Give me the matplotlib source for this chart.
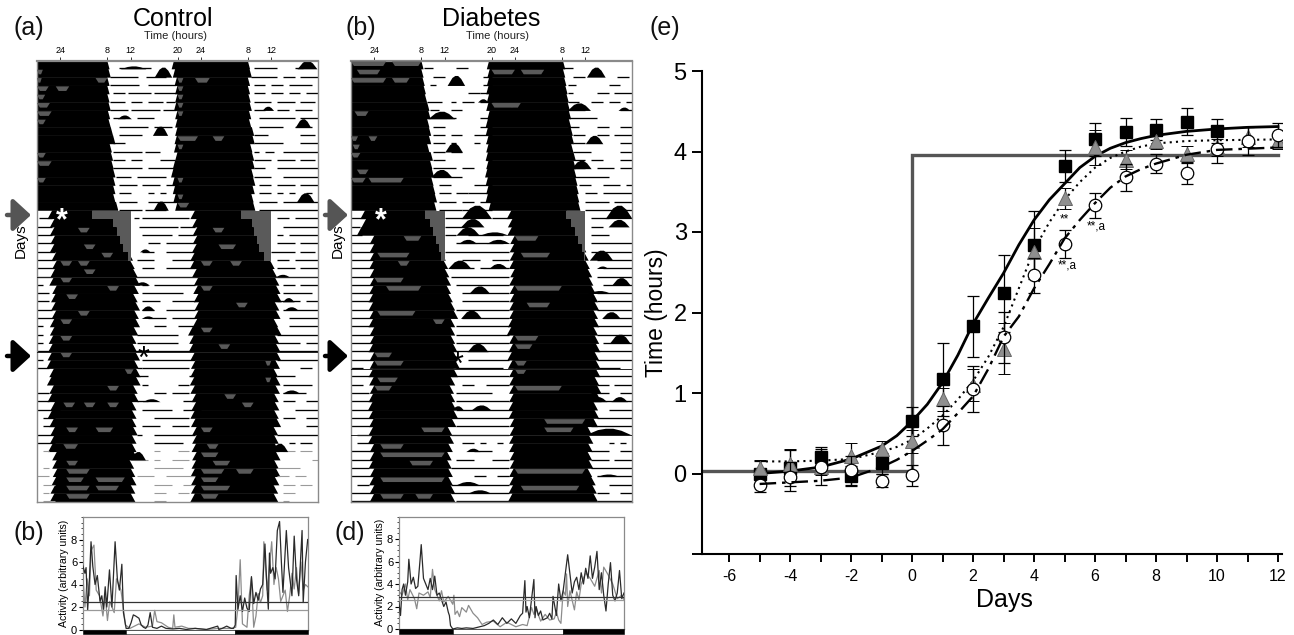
import numpy as np
import matplotlib
matplotlib.use("Agg")
import matplotlib.pyplot as plt
from matplotlib.patches import Polygon, Rectangle

plt.rcParams['font.family'] = ['Liberation Sans', 'DejaVu Sans']
plt.rcParams['axes.unicode_minus'] = False

W, H = 1294, 635
N_ROWS = 53

# ---------- panel (e) data ----------
days_sq = [-5, -4, -3, -2, -1, 0, 1, 2, 3, 4, 5, 6, 7, 8, 9, 10]
sq_val = [0.0, 0.07, 0.2, -0.03, 0.13, 0.65, 1.17, 1.83, 2.24, 2.84, 3.82, 4.15, 4.24, 4.27, 4.37, 4.25]
sq_err = [0.15, 0.22, 0.13, 0.12, 0.13, 0.18, 0.45, 0.38, 0.48, 0.42, 0.2, 0.2, 0.17, 0.13, 0.17, 0.15]
days_all = [-5, -4, -3, -2, -1, 0, 1, 2, 3, 4, 5, 6, 7, 8, 9, 10, 11, 12]
tri_val = [0.07, 0.12, 0.08, 0.22, 0.3, 0.4, 0.92, 1.1, 1.55, 2.75, 3.42, 4.05, 3.9, 4.13, 3.97, 4.05, 4.18, 4.13]
tri_err = [0.1, 0.18, 0.1, 0.16, 0.1, 0.14, 0.14, 0.2, 0.32, 0.3, 0.13, 0.22, 0.12, 0.1, 0.1, 0.1, 0.12, 0.1]
cir_val = [-0.14, -0.04, 0.08, 0.04, -0.09, -0.02, 0.6, 1.05, 1.69, 2.46, 2.85, 3.33, 3.68, 3.85, 3.73, 4.03, 4.13, 4.2]
cir_err = [0.09, 0.18, 0.22, 0.18, 0.08, 0.13, 0.24, 0.28, 0.32, 0.22, 0.17, 0.15, 0.17, 0.12, 0.13, 0.17, 0.17, 0.15]

solid_x = [-5, -4, -3, -2, -1, -0.5, 0, 0.5, 1, 1.5, 2, 2.5, 3, 3.5, 4, 4.5, 5, 5.5, 6, 6.5, 7, 7.5, 8, 9, 10, 11, 12]
solid_y = [0.0, 0.03, 0.08, 0.18, 0.34, 0.47, 0.65, 0.86, 1.13, 1.47, 1.86, 2.18, 2.49, 2.84, 3.15, 3.4, 3.6, 3.8, 3.94, 4.04, 4.11, 4.16, 4.2, 4.25, 4.28, 4.3, 4.31]
dot_x = [-5, -4, -3, -2, -1, -0.5, 0, 0.5, 1, 1.5, 2, 2.5, 3, 3.5, 4, 4.5, 5, 5.5, 6, 6.5, 7, 7.5, 8, 9, 10, 12]
dot_y = [0.15, 0.15, 0.16, 0.18, 0.27, 0.33, 0.42, 0.56, 0.72, 0.92, 1.15, 1.45, 1.82, 2.3, 2.78, 3.12, 3.4, 3.62, 3.8, 3.92, 4.0, 4.06, 4.1, 4.13, 4.14, 4.15]
dd_x = [-5, -4, -3, -2, -1, -0.5, 0, 0.5, 1, 1.5, 2, 2.5, 3, 3.5, 4, 4.5, 5, 5.5, 6, 6.5, 7, 7.5, 8, 9, 10, 12]
dd_y = [-0.13, -0.11, -0.09, -0.05, 0.08, 0.17, 0.28, 0.41, 0.55, 0.75, 0.96, 1.3, 1.7, 1.95, 2.3, 2.6, 2.92, 3.15, 3.36, 3.55, 3.69, 3.78, 3.85, 3.96, 4.02, 4.05]
step_x = [-7, 0, 0, 12]
step_y = [0.03, 0.03, 3.96, 3.96]
x_ticks = [-6, -4, -2, 0, 2, 4, 6, 8, 10, 12]
x_minor = [-5, -3, -1, 1, 3, 5, 7, 9, 11]
y_ticks = [-1, 0, 1, 2, 3, 4, 5]
y_tick_labels = ['', '0', '1', '2', '3', '4', '5']

# ---------- activity traces, percent of the 24 h profile ----------
b_dark_x = [0, 1, 1.5, 2.2, 3, 3.7, 4.5, 5.5, 6.5, 7.7, 8.5, 9.2, 10, 10.7, 11.9, 13, 14.4, 15.4, 16.3, 17.4, 18.1, 19.3, 20.5, 21.5, 22.5, 23.5, 25, 26, 27, 28, 29, 30, 31, 33, 35, 37, 40, 43, 46, 50, 55, 60, 60.5, 62, 64, 66, 67, 67.8, 68.2, 69, 70, 71, 72, 73, 74, 75, 76, 77, 78, 79, 80, 81, 81.7, 82.5, 83, 83.5, 84.5, 85.5, 86.5, 87.5, 88.3, 89, 90.5, 91.5, 93, 94, 95, 96, 97.5, 98, 99, 100]
b_dark_y = [5.7, 5.0, 5.5, 1.7, 4.5, 7.8, 5.6, 4.0, 4.8, 2.5, 3.0, 1.8, 3.8, 2.0, 5.3, 2.0, 7.8, 4.5, 3.5, 5.8, 1.5, 0.1, 0.1, 0.6, 1.3, 1.2, 1.0, 0.4, 0.2, 0.1, 0.4, 1.5, 0.2, 0.1, 0.3, 0.1, 0.05, 0.1, 0.0, 0.1, 0.0, 0.3, 0.0, 0.1, 0.3, 0.1, 0.1, 0.4, 4.8, 1.8, 3.0, 1.6, 2.8, 1.9, 1.6, 4.7, 2.3, 3.3, 2.6, 3.6, 4.0, 7.6, 4.5, 1.8, 6.8, 5.0, 5.5, 4.5, 8.8, 9.6, 6.0, 3.3, 8.8, 5.5, 3.0, 8.3, 4.5, 3.0, 8.8, 2.4, 6.0, 8.0]
b_gray_x = [0, 1, 2, 3, 3.7, 5, 6, 7.5, 9, 10, 11, 12, 14, 15, 17, 18, 19, 21, 25, 28, 31, 32, 33, 35, 38, 40, 40.5, 41, 44, 47, 50, 55, 60, 66, 68, 69, 70, 71, 73, 74, 75, 76, 77, 78, 79, 80, 80.5, 82, 84, 85, 86, 87, 88, 90, 91, 92, 93, 94, 95, 96, 97, 98, 99, 100]
b_gray_y = [5.0, 2.0, 4.5, 3.0, 7.0, 7.5, 3.5, 3.0, 1.2, 3.0, 0.8, 2.5, 1.5, 4.5, 3.5, 2.0, 0.4, 0.1, 0.5, 0.2, 0.3, 1.7, 0.7, 0.6, 0.2, 0.1, 1.3, 0.2, 0.3, 0.1, 0.1, 0.0, 0.1, 0.1, 0.2, 2.0, 6.2, 0.5, 0.2, 3.0, 4.6, 0.2, 1.2, 3.2, 2.4, 3.0, 7.8, 3.5, 7.8, 4.0, 5.5, 4.5, 2.5, 3.5, 1.6, 3.0, 5.0, 3.6, 5.5, 3.2, 6.0, 3.5, 4.0, 3.8]
d_dark_x = [0, 0.8, 1.5, 2.2, 3, 4, 4.5, 5.5, 6.5, 7.5, 8.5, 9.5, 10, 11, 12, 13, 14, 15, 16, 17, 18, 19, 20, 21, 22, 22.5, 23, 24, 25, 26, 28, 30, 33, 36, 38, 40, 42, 44, 46, 48, 50, 52, 54, 55, 56, 56.5, 57, 58, 60, 60.5, 61, 62, 63, 64, 66, 67, 68, 68.5, 70, 71, 72, 73, 75, 77, 78, 79, 80, 81, 82, 83, 84, 85, 86, 87, 88, 89, 90, 91, 92, 93, 94, 95, 96, 97, 98, 99, 100]
d_dark_y = [2.5, 1.2, 3.5, 4.0, 3.0, 4.2, 6.2, 4.0, 4.6, 3.6, 3.8, 6.2, 7.5, 4.5, 4.0, 3.5, 4.5, 3.5, 4.7, 3.0, 3.2, 2.6, 2.0, 2.4, 1.5, 1.2, 0.3, 0.0, 0.05, 0.1, 0.05, 0.1, 0.05, 0.2, 0.3, 0.5, 0.8, 0.4, 1.0, 0.5, 0.9, 0.5, 1.2, 1.4, 4.3, 1.5, 2.0, 1.0, 4.4, 1.0, 2.0, 1.2, 1.6, 0.8, 1.0, 1.4, 0.9, 2.9, 1.2, 4.0, 2.5, 3.4, 6.6, 3.2, 4.2, 4.6, 3.5, 5.0, 4.0, 5.4, 4.5, 6.5, 4.5, 5.5, 6.9, 3.5, 5.0, 3.0, 1.6, 4.0, 5.9, 3.0, 2.5, 3.2, 5.2, 2.7, 3.2]
d_gray_x = [0, 1.5, 3, 4, 5, 7, 8, 9, 11, 13, 14, 15, 16, 18, 19, 20, 22, 24, 24.5, 25, 26, 27, 28, 30, 31, 33, 35, 37, 39, 42, 45, 48, 52, 55, 57, 59, 60, 61, 63, 65, 67, 69, 70, 71, 72, 73, 74, 74.5, 75, 76, 78, 79, 80, 81, 83, 85, 87, 89, 90, 91, 93, 95, 97, 99, 100]
d_gray_y = [3.4, 3.0, 4.0, 2.6, 3.5, 2.7, 1.8, 3.2, 3.0, 3.3, 2.8, 5.3, 3.5, 2.5, 3.4, 2.4, 2.9, 2.2, 3.0, 1.3, 1.6, 1.1, 1.9, 1.5, 2.1, 1.4, 1.0, 0.4, 0.6, 0.7, 0.2, 0.6, 0.2, 0.4, 0.3, 1.9, 1.3, 1.8, 0.7, 1.3, 0.8, 0.9, 1.5, 0.8, 0.5, 3.4, 3.0, 4.9, 2.0, 3.4, 1.7, 3.3, 2.6, 4.0, 5.0, 4.5, 3.8, 5.2, 3.2, 5.5, 4.8, 4.0, 2.7, 3.0, 2.6]
b_thresh = [2.45, 1.75]
d_thresh = [2.85, 2.6]
act_ticks = [0, 2, 4, 6, 8]
b_bar_edges = [0, 19.3, 67.8, 100]
d_bar_edges = [0, 24.3, 72.8, 100]

# ---------- actograms: start and end of the active block per row, hours from left edge ----------
a_on_L = [0] * 18 + [2.6, 3.0, 3.0, 3.1, 3.0, 3.3, 3.4, 3.1, 2.9, 3.4, 3.2, 3.2, 3.3, 3.0, 3.0, 2.8, 2.7, 2.6, 2.4, 2.9, 2.5, 2.9, 2.6, 3.1, 2.6, 2.9, 3.1, 3.0, 2.7, 3.4, 3.4, 3.5, 3.3, 3.1, 3.0]
a_off_L = [12, 12.2, 12, 12, 12, 12.2, 12.1, 12.2, 12.6, 13, 12.4, 12.6, 12.7, 13, 13, 13, 13, 13.5, 9.4, 13.0, 13.6, 14.2, 14.7, 15.6, 15.9, 16.4, 16.8, 16.6, 16.4, 16.8, 16.6, 16.8, 16.5, 16.2, 16.3, 16.8, 16.6, 16.9, 16.9, 16.4, 16.6, 16.2, 16.2, 16.2, 16.4, 16.2, 16.2, 16.5, 15.8, 16.0, 16.2, 16.0, 16.0]
a_on_R = [-0.6, -0.4, -0.1, 0, 0, -0.2, 0, 0, 0, -0.1, -0.2, 0, -0.4, -0.7, -0.5, -0.4, -0.3, 0, 3.0, 3.3, 3.4, 3.4, 3.3, 3.0, 2.9, 3.3, 3.6, 3.5, 3.6, 3.7, 3.6, 3.4, 2.6, 2.8, 2.7, 3.0, 3.1, 3.0, 2.9, 3.0, 3.2, 3.2, 3.0, 3.1, 3.3, 3.3, 3.2, 3.3, 3.2, 3.0, 3.1, 3.1, 3.0]
a_off_R = [12, 12.3, 12, 12, 12.1, 12.3, 12.2, 12.2, 12.7, 12.8, 12.4, 12.7, 12.8, 12.6, 12.9, 12.8, 12.6, 12.9, 10.8, 12.8, 13.0, 13.6, 14.0, 14.8, 15.8, 16.2, 16.6, 16.8, 17.0, 16.6, 16.8, 16.4, 17.0, 16.6, 16.8, 16.9, 16.7, 16.4, 16.8, 16.7, 16.5, 16.6, 16.5, 16.9, 16.4, 16.5, 16.6, 16.8, 16.5, 16.8, 16.6, 16.4, 16.4]
b_on_L = [0] * 18 + [2.4, 2.6, 1.8, 4.0, 4.0, 4.0, 3.9, 4.0, 4.0, 3.9, 3.8, 3.8, 3.9, 3.8, 4.0, 4.0, 3.8, 4.0, 4.0, 3.8, 3.9, 4.0, 3.8, 3.7, 3.8, 3.9, 3.8, 3.7, 4.0, 4.0, 3.8, 4.0, 3.9, 4.0, 4.0]
b_off_L = [12, 12, 12.2, 12.4, 12.6, 13, 13.2, 13, 13.3, 13.3, 13, 13.6, 13.5, 13.8, 13.7, 14, 14.3, 14.2, 12.6, 13.5, 14, 14.5, 15, 15.4, 15.8, 16, 16.3, 16.3, 16.6, 17, 17.5, 17, 17, 17, 17.4, 17.5, 17.8, 17.5, 17, 16.8, 17, 17.2, 17.5, 17.2, 16.5, 16.8, 16.6, 16.4, 16.4, 16.6, 16.6, 17, 17]
b_on_R = [-0.4, -0.3, -0.4, -0.5, -0.4, -0.5, -0.3, -0.6, -0.6, -0.5, -0.5, -0.6, -0.5, -0.7, -0.6, -0.5, -0.6, -0.1, 3.4, 3.6, 3.5, 4.0, 3.9, 3.9, 3.8, 4.0, 3.8, 3.9, 3.9, 3.8, 3.8, 3.6, 3.4, 3.8, 3.7, 3.5, 3.6, 3.8, 3.8, 3.8, 3.8, 3.7, 3.7, 3.9, 3.9, 3.8, 3.8, 3.9, 3.9, 3.8, 3.8, 3.7, 3.6]
b_off_R = [12.2, 12.2, 12.4, 12.6, 12.8, 13, 13.2, 13.2, 13.5, 13.7, 13.6, 14, 14, 14.1, 14.3, 14.5, 14.6, 14.8, 12.8, 13.6, 14.2, 14.8, 15.4, 15.8, 16, 16.4, 16.6, 17, 17.4, 17.6, 17.4, 17.6, 17.4, 17.6, 17.8, 17.6, 17.8, 17.8, 17.6, 18, 18, 17.4, 17.6, 17.4, 16.4, 16.6, 16.5, 16.4, 16.6, 16.4, 17, 17.2, 17.4]

# gaps of low activity: row, start hour, end hour
a_wedge = [(18, 9.4, 16), (19, 13, 16), (20, 13.6, 16), (21, 14.2, 16), (22, 14.7, 16), (23, 15.6, 16),
           (18, 34.8, 40), (19, 36.8, 40), (20, 37, 40), (21, 37.6, 40), (22, 38, 40), (23, 38.8, 40)]
a_gray = [(1, 0, 1), (2, 0, 0.8), (3, 0, 2), (4, 0, 1.4), (5, 0, 2.2), (6, 0, 2.5), (7, 0, 1.5), (3, 3.2, 5.5),
          (2, 10, 12), (2, 27, 29.5), (9, 24, 27.5), (9, 30, 32), (11, 0, 1.5), (12, 0, 2.5), (14, 0, 1.5),
          (2, 24, 25), (3, 24, 25), (4, 24, 25), (5, 24, 25), (6, 24, 25), (10, 24, 25), (14, 24, 25), (16, 24, 25),
          (17, 24, 26), (20, 7, 9), (22, 8, 10), (23, 11, 13), (24, 4, 6), (24, 7, 9), (25, 8, 10), (26, 4, 6),
          (27, 12, 14), (28, 5, 7), (30, 7, 9), (31, 4, 6), (33, 4, 6), (35, 4, 6), (37, 15, 16.5), (39, 12, 14),
          (41, 4.5, 6.5), (41, 8, 10), (41, 12, 14), (44, 5, 7), (44, 10, 13), (46, 4.5, 7), (48, 5, 7), (49, 5, 9),
          (50, 5, 8), (50, 10, 15), (51, 5, 9), (51, 10, 14), (52, 5, 9), (20, 30, 32), (22, 31, 34), (24, 28, 30),
          (24, 33, 35), (27, 28, 30), (29, 34, 36), (32, 28, 30), (34, 31, 33), (36, 39, 40), (38, 39, 40), (40, 32, 34),
          (41, 35, 37), (44, 28, 30), (46, 29, 31), (47, 28, 31), (48, 30, 33), (49, 28, 32), (49, 34, 37), (50, 28, 31), (51, 28, 33), (52, 28, 31)]
b_wedge = [(18, 12.6, 16), (19, 13.5, 16), (20, 14, 16), (21, 14.5, 16), (22, 15, 16), (23, 15.4, 16),
           (18, 36.8, 40), (19, 37.6, 40), (20, 38.2, 40), (21, 38.8, 40), (22, 39.4, 40), (23, 39.8, 40)]
b_gray = [(0, 0, 6), (0, 7, 12), (1, 1, 5), (1, 24, 28), (1, 29, 33), (2, 0, 6), (2, 7, 10), (5, 24, 28), (6, 0.6, 3),
          (9, 0, 1.2), (9, 3, 4.5), (10, 0.3, 1.5), (11, 0, 1.6), (13, 1, 3), (14, 0, 2.5), (14, 3, 9), (5, 27, 29),
          (21, 9, 12), (23, 4.5, 10), (24, 8, 10), (26, 4, 9), (27, 6, 12), (30, 4.5, 11), (31, 14, 16), (36, 4, 9),
          (38, 4.5, 8), (39, 4, 7), (21, 28, 32), (23, 29, 34), (27, 28, 36), (29, 30, 34), (33, 28, 32), (36, 28, 30),
          (39, 28, 36), (44, 12, 16), (43, 33, 40), (44, 33, 38), (46, 5, 9), (47, 5, 16), (48, 10, 14), (49, 28, 40),
          (50, 5, 16), (51, 29, 39), (52, 5, 9), (52, 11, 14), (34, 28, 31), (35, 4, 7), (37, 28, 30)]

# baseline activity: row, start hour, end hour
a_dash = [(0, 14, 19.5), (0, 37, 41), (0, 44, 45.5), (1, 12.5, 17.3), (1, 18.7, 22), (1, 36.5, 41), (1, 42, 44), (1, 45, 48),
          (2, 12.5, 17.5), (2, 19, 23.8), (2, 37, 39), (2, 40, 42), (2, 43, 47), (3, 13, 15), (3, 15.5, 19.5), (3, 20, 23.8),
          (3, 37, 39), (3, 40, 42), (3, 43, 45), (3, 46, 48), (4, 12.5, 15), (4, 16, 18), (4, 19, 21.5), (4, 22, 23.5),
          (4, 37, 40), (4, 41, 44), (4, 45, 47.5), (5, 12.5, 15.5), (5, 16, 21), (5, 21.5, 23.8), (5, 37, 39), (5, 41, 43), (5, 44, 47),
          (6, 13, 15), (6, 17, 20), (6, 38, 44), (6, 45, 48), (7, 14, 19), (7, 20, 23), (7, 38, 42), (7, 44, 47),
          (8, 14, 18), (8, 37, 39.5), (8, 45, 47.5), (9, 13, 15), (9, 37, 42), (9, 45, 48), (10, 13, 18), (10, 18.5, 21), (10, 37, 38), (10, 39, 40.5), (10, 42, 48),
          (11, 13, 15), (11, 16, 18), (11, 21, 23.5), (11, 37, 40), (11, 41, 44), (11, 45, 47.5), (12, 13, 18), (12, 19, 24), (12, 37, 39), (12, 41, 48),
          (13, 13.5, 16), (13, 17, 22), (13, 37, 40), (13, 42, 48), (14, 14, 17), (14, 18, 21), (14, 22, 24), (14, 38, 40), (14, 41, 44), (14, 45, 48),
          (15, 14, 16), (15, 19, 20), (15, 21, 22), (15, 38, 40), (15, 41, 42), (15, 43, 44), (15, 46, 47), (16, 14, 17), (16, 19, 24), (16, 38, 41), (16, 42, 48),
          (17, 14, 18), (17, 18.5, 22), (17, 38, 48), (18, 0.3, 2.5), (18, 16.5, 17.5), (18, 18, 26), (18, 41, 43), (18, 44, 48),
          (19, 0, 2.5), (19, 17.5, 24), (19, 24.5, 27), (19, 42, 48), (20, 0, 2.5), (20, 18, 23), (20, 24, 27), (20, 41, 42), (20, 43, 48),
          (21, 0, 3), (21, 19, 21), (21, 22, 27), (21, 41, 44), (21, 45, 48), (22, 0, 3), (22, 18, 20), (22, 22, 27), (22, 40, 44), (22, 45, 47.5),
          (23, 0, 3), (23, 17, 20), (23, 23, 27), (23, 41, 43), (23, 44, 48), (24, 0, 3), (24, 18, 20), (24, 22, 27), (24, 41, 44), (24, 45, 48),
          (25, 0, 48), (26, 0, 1), (26, 18, 19), (26, 20, 27), (26, 42, 44), (26, 45, 48), (27, 0, 2), (27, 18, 25), (27, 42, 47), (28, 0, 2), (28, 18, 21), (28, 23, 27), (28, 41, 45), (28, 46, 48),
          (29, 0, 2.5), (29, 18, 20), (29, 22, 27), (29, 42, 48), (30, 0, 3), (30, 19, 22), (30, 23, 27), (30, 43, 48), (31, 0, 1), (31, 20, 22), (31, 24, 27), (31, 43, 48),
          (32, 0, 1), (32, 17, 24), (32, 41, 48), (33, 0, 1), (33, 17, 24), (33, 41, 45), (33, 46, 48), (34, 0, 48), (35, 0, 1), (35, 18, 27), (35, 41, 48),
          (36, 0, 2), (36, 17, 18), (36, 18, 26), (36, 45, 47), (37, 17, 19), (37, 26, 27), (37, 41, 44), (38, 18, 19), (38, 24, 26), (38, 42, 47),
          (39, 0, 2), (39, 20, 22), (39, 23, 26), (39, 42, 46), (40, 0, 2), (40, 17, 19), (40, 25, 27), (40, 42, 44), (40, 46, 48), (41, 0, 4), (41, 18, 23), (41, 25, 28), (41, 44, 48),
          (42, 1, 3), (42, 20, 26), (42, 42, 44), (42, 46, 48), (43, 1, 3), (43, 18, 21), (43, 23, 26), (43, 46, 48), (44, 0, 3), (44, 17, 18), (44, 20, 27), (44, 41, 48),
          (45, 0, 3), (45, 20, 25), (45, 43, 44), (45, 45, 47), (46, 1, 2), (46, 20, 21), (46, 24, 26), (46, 42, 44), (46, 45, 47), (47, 16.5, 19), (47, 20, 21), (47, 23, 26), (47, 47, 48),
          (48, 1, 2), (48, 20, 25), (48, 41, 45), (49, 0, 2), (49, 17, 20), (49, 22, 27), (49, 41, 43), (49, 44, 46), (50, 1, 3), (50, 20, 23), (50, 25, 27), (50, 42, 44), (50, 45, 47),
          (51, 1, 2), (51, 20, 22), (51, 24, 26), (51, 42, 44), (52, 1, 3), (52, 20, 22), (52, 42, 43)]
b_dash = [(0, 12.5, 14), (0, 18, 20), (0, 36, 38), (1, 14, 16), (1, 22.5, 24), (1, 38, 40), (1, 45.5, 47.5), (2, 13.5, 14.5), (2, 22.5, 24), (2, 37, 38.5), (2, 44, 46), (3, 20, 22), (3, 22, 24), (3, 37, 38), (3, 42, 44), (3, 45, 48),
          (4, 13, 15.5), (4, 17, 18), (4, 19, 21), (4, 22, 24), (4, 37, 39), (4, 41, 43), (4, 44, 46), (4, 47, 48), (5, 13.5, 15), (5, 17, 19), (5, 37, 40), (5, 46, 48), (6, 13.5, 18), (6, 22, 24), (6, 37, 42), (7, 14, 16), (7, 22, 24), (7, 37, 39), (7, 42, 44), (7, 46, 48),
          (8, 14, 16), (8, 17, 19), (8, 21, 24), (8, 38, 40), (8, 42, 44), (8, 45, 48), (9, 14, 16), (9, 17, 18), (9, 21, 22), (9, 23, 24), (9, 38, 40), (9, 46, 48), (10, 14, 16), (10, 17, 19), (10, 38, 41), (10, 46, 48),
          (11, 14, 16), (11, 23, 24), (11, 38, 40), (11, 41, 43), (11, 46, 48), (12, 14, 18), (12, 19, 21), (12, 38, 40), (12, 42, 45), (12, 46, 48), (13, 14, 19), (13, 38, 44), (14, 15, 17), (14, 21, 24), (14, 39, 41), (14, 43, 46), (14, 47, 48),
          (15, 15, 17), (15, 18, 20), (15, 20, 24), (15, 40, 42), (15, 43, 48), (16, 15, 18), (16, 19, 21), (16, 22, 24), (16, 40, 44), (16, 45, 48), (17, 15, 19), (17, 19, 24), (17, 40, 48),
          (18, 0, 2.4), (18, 16, 20), (18, 24, 27), (18, 41, 44), (19, 0, 1.6), (19, 16, 20), (19, 41, 43), (20, 0, 1.8), (20, 16, 18), (20, 20, 26), (20, 41, 44), (21, 0, 4), (21, 18, 26), (21, 41, 48), (22, 0, 4), (22, 16, 27), (22, 41, 48),
          (23, 0, 4), (23, 19, 22), (23, 24, 27), (23, 42, 48), (24, 0, 4), (24, 17, 21), (24, 22, 27), (24, 43, 48), (25, 0, 4), (25, 17, 27), (25, 42, 48), (26, 0, 4), (26, 18, 27), (26, 43, 48), (27, 0, 4), (27, 19, 27), (27, 42, 48), (28, 0, 4), (28, 19, 27), (28, 42, 48),
          (29, 0, 4), (29, 18, 27), (29, 42, 48), (30, 0, 4), (30, 19, 27), (30, 43, 48), (31, 0, 4), (31, 18, 27), (31, 42, 48), (32, 0, 4), (32, 18, 27), (32, 42, 48), (33, 0, 4), (33, 18, 27), (33, 43, 48), (34, 0, 4), (34, 18, 27), (34, 42, 48),
          (35, 0, 4), (35, 20, 27), (35, 42, 48), (36, 0, 2), (36, 18, 26), (36, 42, 46), (37, 0, 4), (37, 17, 27), (37, 42, 48), (38, 0, 2), (38, 19, 21), (38, 23, 27), (38, 42, 44), (38, 45, 48), (39, 0, 3), (39, 18, 24), (39, 41, 44), (39, 46, 48),
          (40, 0, 4), (40, 18, 27), (40, 41, 48), (41, 0, 4), (41, 18, 28), (41, 44, 48), (42, 0, 4), (42, 17, 27), (42, 42, 48), (43, 0, 4), (43, 18, 27), (43, 41, 48), (44, 1, 4), (44, 17, 27), (45, 1, 4), (45, 19, 21), (45, 22, 23), (45, 25, 26), (45, 44, 45), (45, 46, 47),
          (46, 0, 4), (46, 21, 24), (46, 41, 44), (46, 46, 48), (47, 0, 4), (47, 18, 21), (47, 24, 27), (47, 41, 44), (47, 45, 48), (48, 0, 3), (48, 17, 27), (48, 41, 48), (49, 0, 4), (49, 21, 23), (49, 25, 27), (49, 42, 48),
          (50, 1, 3), (50, 17, 27), (50, 44, 48), (51, 0, 4), (51, 17, 27), (51, 42, 44), (51, 46, 48), (52, 0, 4), (52, 18, 27), (52, 42, 48)]

# discrete activity bouts: row, centre hour, half width, height in rows
a_bump = [(0, 16.5, 2.2, 0.35), (1, 21.6, 1.5, 1.2), (0, 46.2, 1.7, 1.0), (6, 15, 1.2, 0.45), (7, 45.5, 1.3, 1.0), (8, 21.1, 1.3, 1.1),
          (17, 21.2, 1.3, 1.1), (16, 45.9, 1.5, 1.1), (5, 39.5, 1.0, 0.5), (22, 18.5, 0.9, 0.35), (40, 19.6, 1.5, 0.35), (39, 43.5, 1.5, 0.4),
          (47, 17.3, 1.3, 1.0), (46, 41.5, 1.4, 1.0), (26, 18.0, 1.3, 0.4), (29, 19, 1.1, 0.5), (30, 19, 1.1, 0.3), (28, 43, 1.0, 0.5), (29, 43.5, 1.2, 0.4), (25, 42.0, 1.2, 0.3)]
b_bump = [(2, 18, 1.5, 1.2), (1, 41.9, 1.6, 1.2), (6, 15.5, 2.3, 0.9), (5, 39, 2.0, 0.9), (10, 17.6, 1.5, 1.1), (9, 41.6, 1.5, 1.0),
          (13, 15.5, 1.8, 0.9), (12, 39.4, 1.7, 1.0), (4, 22.6, 0.9, 0.4), (5, 46.7, 1.0, 0.4), (18, 45.8, 2.3, 1.6), (19, 45.8, 1.8, 0.9), (18, 21.5, 2.6, 1.6),
          (19, 20.8, 2.0, 1.0), (20, 20, 2.0, 1.0), (20, 24.5, 2.5, 0.4), (21, 20, 1.6, 0.5), (21, 25.2, 2.0, 0.5), (24, 18.6, 2.0, 1.0), (24, 25.2, 1.6, 0.6), (23, 42.8, 2.0, 1.2),
          (27, 22, 1.8, 0.9), (26, 46.2, 1.6, 0.9), (30, 44.5, 1.6, 0.8), (30, 20.6, 1.8, 1.0), (34, 21.7, 1.8, 1.0), (33, 46, 1.8, 1.1), (41, 22.3, 1.7, 0.6), (41, 18.3, 1.0, 0.5),
          (40, 45.9, 1.4, 0.6), (40, 42.2, 1.6, 0.6), (46, 20.9, 1.2, 0.4), (50, 20, 2.0, 0.4), (51, 22, 2.0, 0.4), (49, 44, 2.0, 0.3), (44, 44, 4, 0.8), (27, 42.5, 2, 0.35), (24, 43, 1, 0.3)]

rule_rows = {'a': [25, 34], 'b': [36, 44]}
top_ticks = [4, 12, 16, 24, 28, 36, 40]
top_tick_labels = ['24', '8', '12', '20', '24', '8', '12']


def ax_px(x0, y0, x1, y1, **kw):
    return fig.add_axes([x0 / W, 1 - y1 / H, (x1 - x0) / W, (y1 - y0) / H], **kw)


def draw_actogram(ax, on_L, off_L, on_R, off_R, wedge, gray, dash, bump, rules, faint_from):
    dark = '#5a5a5a'
    for r in range(N_ROWS):
        for on, off, shift in ((on_L[r], off_L[r], 0), (on_R[r], off_R[r], 24)):
            t = 0.4 if r < 18 else 0.8
            pts = [(shift + on - t, r + 1), (shift + on, r - 0.05), (shift + off, r - 0.05), (shift + off + t, r + 1)]
            ax.add_patch(Polygon(pts, closed=True, fc='k', ec='none', zorder=2))
    for r, h0, h1 in wedge:
        ax.add_patch(Rectangle((h0, r), h1 - h0, 1, fc=dark, ec='none', zorder=3))
    for r, h0, h1 in gray:
        m = min(0.5, (h1 - h0) * 0.3)
        ax.add_patch(Polygon([(h0, r + 0.05), (h1, r + 0.05), (h1 - m, r + 0.6), (h0 + m, r + 0.6)],
                             closed=True, fc=dark, ec='none', zorder=3))
    for r, h0, h1 in dash:
        faint = r >= faint_from
        ax.plot([h0, h1], [r + 0.9, r + 0.9], color='#9a9a9a' if faint else 'k', lw=0.8 if faint else 0.95,
                solid_capstyle='butt', zorder=2)
    for r, c, w, ht in bump:
        ax.add_patch(Polygon([(c - w, r + 1), (c - w * 0.45, r + 1 - ht * 0.8), (c - w * 0.12, r + 1 - ht),
                              (c + w * 0.2, r + 1 - ht), (c + w * 0.55, r + 1 - ht * 0.7), (c + w, r + 1)],
                             closed=True, fc='k', ec='none', zorder=2))
    for r in rules:
        ax.plot([0, 48], [r + 1, r + 1], color='#222222', lw=0.7, zorder=4)
    ax.set_xlim(0, 48)
    ax.set_ylim(N_ROWS, 0)
    ax.set_yticks([])
    ax.xaxis.tick_top()
    ax.set_xticks(top_ticks)
    ax.set_xticklabels(top_tick_labels, fontsize=6.5)
    ax.tick_params(axis='x', length=3, width=0.7, pad=1, color='#333333')
    for s in ax.spines.values():
        s.set_color('#8a8a8a')
        s.set_linewidth(1.0)
    ax.spines['top'].set_linewidth(1.6)


def draw_trace(ax, dx, dy, gx, gy, thresh, edges):
    ax.plot(gx, gy, color='#8c8c8c', lw=0.9, zorder=2)
    ax.plot(dx, dy, color='#2a2a2a', lw=0.9, zorder=3)
    ax.axhline(thresh[0], color='#333333', lw=0.9, zorder=4)
    ax.axhline(thresh[1], color='#999999', lw=0.9, zorder=4)
    ax.set_xlim(0, 100)
    ax.set_ylim(0, 10)
    ax.set_xticks([])
    ax.set_yticks(act_ticks)
    ax.set_yticks(np.arange(0, 10.01, 0.5), minor=True)
    ax.tick_params(axis='y', which='major', length=3, width=0.8, labelsize=8, pad=1)
    ax.tick_params(axis='y', which='minor', length=1.5, width=0.5)
    for s in ax.spines.values():
        s.set_color('#8a8a8a')
        s.set_linewidth(0.9)
    ax.set_ylabel('Activity (arbitrary units)', fontsize=7.6, labelpad=1.5)
    colors = ['k', 'w', 'k']
    for i in range(3):
        ax.add_patch(Rectangle((edges[i], -0.42), edges[i + 1] - edges[i], 0.42, fc=colors[i], ec='k', lw=0.4,
                               clip_on=False, zorder=5))


fig = plt.figure(figsize=(W / 100, H / 100), dpi=100, facecolor='white')

# actograms
ax_a = ax_px(37, 61, 318, 502)
draw_actogram(ax_a, a_on_L, a_off_L, a_on_R, a_off_R, a_wedge, a_gray, a_dash, a_bump, rule_rows['a'], 46)
ax_b = ax_px(351, 61, 632, 502)
draw_actogram(ax_b, b_on_L, b_off_L, b_on_R, b_off_R, b_wedge, b_gray, b_dash, b_bump, rule_rows['b'], 99)

# activity traces
ax_c = ax_px(82.7, 517, 307.7, 629.5)
draw_trace(ax_c, b_dark_x, b_dark_y, b_gray_x, b_gray_y, b_thresh, b_bar_edges)
ax_d = ax_px(398.7, 516.5, 624, 629)
draw_trace(ax_d, d_dark_x, d_dark_y, d_gray_x, d_gray_y, d_thresh, d_bar_edges)

# panel (e)
ax_e = ax_px(702, 71, 1282, 554)
ax_e.set_xlim(-6.89, 12.13)
ax_e.set_ylim(-1, 5)
ax_e.plot(step_x, step_y, color='#555555', lw=2.4, solid_joinstyle='miter', zorder=2)
ax_e.plot(solid_x, solid_y, color='k', lw=2.0, zorder=3)
ax_e.plot(dot_x, dot_y, color='k', lw=1.5, ls=(0, (1, 2)), zorder=3)
ax_e.plot(dd_x, dd_y, color='k', lw=1.7, ls=(0, (7, 2.5, 1.5, 2.5)), zorder=7)
ekw = dict(ls='none', ecolor='k', elinewidth=0.9, capsize=4.5, capthick=0.9)
ax_e.errorbar(days_sq, sq_val, yerr=sq_err, marker='s', ms=8, mfc='k', mec='k', zorder=4, **ekw)
ax_e.errorbar(days_all, tri_val, yerr=tri_err, marker='^', ms=10.5, mfc='#8f8f8f', mec='#666666', mew=0.7, zorder=5, **ekw)
ax_e.errorbar(days_all, cir_val, yerr=cir_err, marker='o', ms=9, mfc='white', mec='k', mew=0.9, zorder=6, **ekw)
for side in ('top', 'right'):
    ax_e.spines[side].set_visible(False)
for side in ('left', 'bottom'):
    ax_e.spines[side].set_linewidth(1.5)
ax_e.set_xticks(x_ticks)
ax_e.set_xticks(x_minor, minor=True)
ax_e.set_yticks(y_ticks)
ax_e.set_yticklabels(y_tick_labels, fontsize=17)
ax_e.tick_params(axis='x', which='both', length=6, width=1.4, labelsize=11.5, pad=5)
ax_e.tick_params(axis='y', length=7, width=1.4, pad=4)
ax_e.set_xlabel('Days', fontsize=18, labelpad=-1)
ax_e.xaxis.set_label_coords(0.521, -0.07)
ax_e.set_ylabel('Time (hours)', fontsize=16.5, labelpad=10)
ax_e.yaxis.set_label_coords(-0.058, 0.50)
ax_e.text(5.0, 3.16, '**', fontsize=8.5, ha='center', va='center', zorder=8)
ax_e.text(6.05, 3.07, '**,a', fontsize=8.5, ha='center', va='center', zorder=8)
ax_e.text(5.1, 2.59, '**,a', fontsize=8.5, ha='center', va='center', zorder=8)

# overlay in pixel coordinates for labels and arrows
ov = fig.add_axes([0, 0, 1, 1], facecolor='none')
ov.set_xlim(0, W)
ov.set_ylim(H, 0)
ov.axis('off')
labels = [('(a)', 29, 28, 18), ('(b)', 361, 28, 18), ('(e)', 665, 28, 18), ('(b)', 29, 533, 18), ('(d)', 350, 533, 18)]
for s, x, y, fs in labels:
    ov.text(x, y, s, fontsize=fs, ha='center', va='center', color='#111111')
ov.text(173, 19, 'Control', fontsize=18, ha='center', va='center')
ov.text(491, 19, 'Diabetes', fontsize=18, ha='center', va='center')
ov.text(175, 36, 'Time (hours)', fontsize=8, ha='center', va='center', color='#222222')
ov.text(497, 36, 'Time (hours)', fontsize=8, ha='center', va='center', color='#222222')
ov.text(21, 241, 'Days', fontsize=11, rotation=90, ha='center', va='center')
ov.text(338, 241, 'Days', fontsize=11, rotation=90, ha='center', va='center')
ov.text(62, 221, '*', fontsize=22, color='white', ha='center', va='center', fontweight='bold', zorder=10)
ov.text(381, 221, '*', fontsize=22, color='white', ha='center', va='center', fontweight='bold', zorder=10)
ov.text(144, 360, '*', fontsize=22, color='k', ha='center', va='center', zorder=10)
ov.text(458, 366, '*', fontsize=22, color='k', ha='center', va='center', zorder=10)
arrows = [(7, 31, 215, '#555555'), (325, 348, 215, '#555555'), (7, 31, 356, 'k'), (325, 348, 356, 'k')]
for x0, x1, y, c in arrows:
    ov.annotate('', xy=(x1, y), xytext=(x0, y),
                arrowprops=dict(arrowstyle='-|>,head_width=0.55,head_length=0.6', lw=3.2, color=c,
                                shrinkA=0, shrinkB=0, mutation_scale=18))

fig.savefig('out.png', dpi=100, facecolor='white')
